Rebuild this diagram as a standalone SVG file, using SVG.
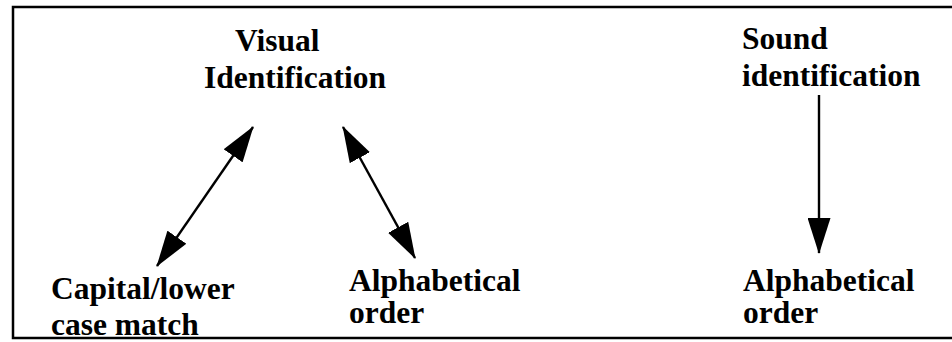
<svg xmlns="http://www.w3.org/2000/svg" width="952" height="342" viewBox="0 0 952 342">
<style>
.t{font-family:"Liberation Serif","Times New Roman",serif;font-weight:bold;font-size:31.5px;fill:#000}
.c{stroke:#000;stroke-width:2.4;fill:none}
.b{stroke:#000;stroke-width:2.5;fill:none}
</style>
<defs>
<marker id="ah" markerUnits="userSpaceOnUse" markerWidth="36" markerHeight="23" refX="35" refY="11.5" orient="auto-start-reverse" viewBox="0 0 36 23">
<path d="M0,0 L36,11.5 L0,23 z" fill="#000"/>
</marker>
</defs>
<rect width="952" height="342" fill="#fff"/>
<path class="b" d="M952,7 L13,7 L13,338 L952,338"/>
<g id="visual"><text class="t" x="235" y="51">Visual</text><text class="t" x="204" y="88">Identification</text></g>
<g id="sound"><text class="t" x="742" y="49">Sound</text><text class="t" x="742" y="86">identification</text></g>
<g id="capital"><text class="t" x="51" y="299">Capital/lower</text><text class="t" x="51" y="335">case match</text></g>
<g id="alpha1"><text class="t" x="349" y="291">Alphabetical</text><text class="t" x="349" y="323">order</text></g>
<g id="alpha2"><text class="t" x="743" y="291">Alphabetical</text><text class="t" x="743" y="323">order</text></g>
<g id="connectors">
<line class="c" x1="253" y1="127" x2="157" y2="266" marker-start="url(#ah)" marker-end="url(#ah)"/>
<line class="c" x1="343" y1="127" x2="415" y2="258" marker-start="url(#ah)" marker-end="url(#ah)"/>
<line class="c" x1="819" y1="95" x2="819" y2="253" marker-end="url(#ah)"/>
</g>
</svg>
